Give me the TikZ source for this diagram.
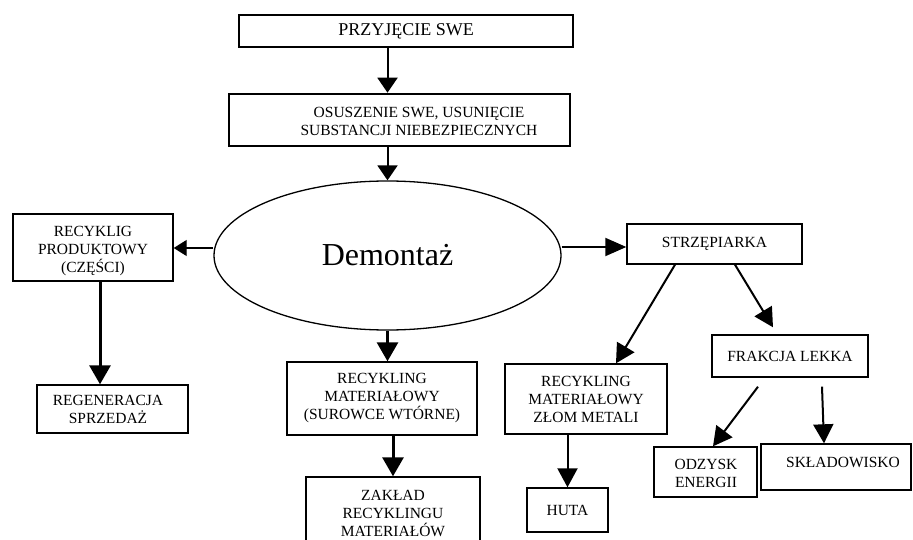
\documentclass[tikz,border=0pt]{standalone}
\usepackage{fontspec}
\setmainfont{Liberation Serif}
\usetikzlibrary{arrows.meta,shapes.geometric,calc}
\begin{document}
\begin{tikzpicture}[x=1pt,y=-1pt,
  txt/.style={font=\fontsize{15.5}{18}\selectfont,align=center,inner sep=0pt},
  box/.style={draw,line width=1.4pt,inner sep=0pt,txt},
  arr/.style={-{Triangle[length=19pt,width=20pt]},line width=2pt},
  arrthick/.style={-{Triangle[length=19pt,width=21pt]},line width=3pt},
  arrthin/.style={-{Triangle[length=13pt,width=16pt]},line width=1.3pt}]
\useasboundingbox (0,0) rectangle (913,540);
\clip (0,0) rectangle (913,540);

\node[box,minimum width=334pt,minimum height=32pt,font=\fontsize{18}{20}\selectfont] (top) at (406,31) {PRZYJĘCIE SWE};
\node[box,line width=2.6pt,minimum width=341pt,minimum height=52pt] (osu) at (399.5,120) {};
\node[txt] (osut) at (419,121.5) {OSUSZENIE SWE, USUNIĘCIE\\SUBSTANCJI NIEBEZPIECZNYCH};
\node[draw,ellipse,line width=1.3pt,minimum width=347pt,minimum height=149pt,inner sep=0pt,font=\fontsize{32}{36}\selectfont] (dem) at (387.5,255.5) {Demontaż};

\node[box,minimum width=160pt,minimum height=67pt] (rp) at (93,247.5) {};
\node[txt] (rpt) at (93,251) {RECYKLIG\\PRODUKTOWY\\(CZĘŚCI)};
\node[box,minimum width=151pt,minimum height=48pt] (reg) at (112.5,409) {};
\node[txt] (regt) at (108,409) {REGENERACJA\\SPRZEDAŻ};
\node[box,minimum width=190pt,minimum height=73pt] (rm) at (382,398.5) {RECYKLING\\MATERIAŁOWY\\(SUROWCE WTÓRNE)};
\node[box,minimum width=174pt,minimum height=83pt] (zak) at (393,518.5) {};
\node[txt] (zakt) at (393,513) {ZAKŁAD\\RECYKLINGU\\MATERIAŁÓW};
\node[box,minimum width=175pt,minimum height=40pt] (str) at (714.5,244) {STRZĘPIARKA};
\node[box,minimum width=162pt,minimum height=70pt] (zm) at (586,399) {RECYKLING\\MATERIAŁOWY\\ZŁOM METALI};
\node[box,minimum width=156pt,minimum height=42pt] (fl) at (790,356) {FRAKCJA LEKKA};
\node[box,minimum width=81pt,minimum height=44pt] (huta) at (567.5,510) {HUTA};
\node[box,minimum width=103pt,minimum height=50pt] (odz) at (705.5,472) {};
\node[txt] (odzt) at (706,473.5) {ODZYSK\\ENERGII};
\node[box,minimum width=150pt,minimum height=46pt] (skl) at (836,467) {};
\node[txt] (sklt) at (843,462) {SKŁADOWISKO};

\coordinate (dl) at ([yshift=7.5pt]dem.west);
\coordinate (dr) at ([yshift=8.5pt]dem.east);
\coordinate (rps) at ([xshift=7pt]rp.south);

\draw[arr,-{Triangle[length=15pt,width=20pt]}] (dem |- top.south) -- (dem |- osu.north);
\draw[arr,-{Triangle[length=15pt,width=20pt]}] (dem |- osu.south) -- (dem.north);
\draw[arrthin] (dl) -- (rp.east |- dl);
\draw[arr,-{Triangle[length=21pt,width=18pt]}] (dr) -- (str.west |- dr);
\draw[arrthick] (rps) -- (rps |- reg.north);
\draw[arrthick] (dem.south) -- (dem.south |- rm.north);
\draw[arrthick] (zak.north |- rm.south) -- (zak.north);
\draw[arr] ([xshift=-39.5pt]str.south) -- ([xshift=30pt]zm.north);
\draw[arr] ([xshift=20.5pt]str.south) -- ([xshift=-17pt,yshift=7pt]fl.north);
\draw[arr] (huta.north |- zm.south) -- (huta.north);
\draw[arr] ([xshift=-32pt,yshift=-9pt]fl.south) -- ([xshift=7.5pt]odz.north);
\draw[arr] ([xshift=32pt,yshift=-9pt]fl.south) -- ([xshift=-12pt]skl.north);
\end{tikzpicture}
\end{document}
